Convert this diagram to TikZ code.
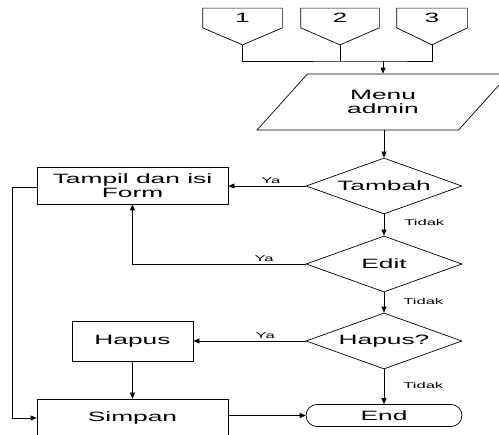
\documentclass[tikz,border=0pt]{standalone}
\usepackage{fontspec}
\setmainfont{Liberation Sans}[FakeStretch=1.95]
\usetikzlibrary{shapes.geometric,shapes.misc,arrows.meta}

\begin{document}
\begin{tikzpicture}[x=1pt,y=-1pt,line width=0.7pt,
    box/.style={draw,rectangle,align=center,inner sep=0pt,
      font=\fontsize{13.5}{14.5}\selectfont},
    decision/.style={draw,diamond,aspect=2.8,inner sep=0pt,
      minimum width=156pt,minimum height=56pt,
      font=\fontsize{13.5}{14.5}\selectfont},
    conn/.style={rectangle,inner sep=0pt,minimum height=19pt,
      font=\fontsize{13.5}{14.5}\selectfont},
    lbl/.style={font=\fontsize{8.5}{10}\selectfont,inner sep=2pt},
    arr/.style={-{Triangle[length=6pt,width=5pt]}}]
  \useasboundingbox (0,0) rectangle (499,435);

  \foreach \x/\w/\n in {242.5/79/1, 340/78/2, 432/70/3}{
    \node[conn,minimum width=\w pt] (c\n) at (\x,18) {\n};
    \draw (c\n.north west) -- (c\n.north east) -- (c\n.south east)
      -- ([yshift=-17pt]c\n.south) coordinate (t\n) -- (c\n.south west) -- cycle;
  }
  \coordinate (m) at (383,61);

  \node[draw,trapezium,trapezium left angle=45,trapezium right angle=135,
    trapezium stretches=true,minimum width=252pt,minimum height=56pt,
    align=center,inner sep=0pt,font=\fontsize{13.5}{14.5}\selectfont]
    (menu) at (383,102) {Menu\\admin};
  \node[decision] (tambah) at (384,186) {Tambah};
  \node[decision] (edit) at (384,264) {Edit};
  \node[decision] (hapusq) at (384,341) {Hapus?};
  \node[box,minimum width=191pt,minimum height=37pt] (tampil) at (132.5,185.5)
    {Tampil dan isi\\Form};
  \node[box,minimum width=121pt,minimum height=40pt] (hapus) at (132.5,341) {Hapus};
  \node[box,minimum width=191pt,minimum height=38pt] (simpan) at (132.5,418) {Simpan};
  \node[draw,rounded rectangle,minimum width=156pt,minimum height=22pt,inner sep=0pt,
    font=\fontsize{13.5}{14.5}\selectfont] (end) at (384,415.5) {End};

  \draw (t1) |- (m) -| (t3);
  \draw (t2) -- (t2 |- m);
  \draw[arr] (m) -- (menu.north -| m);
  \draw[arr] (menu.south -| tambah) -- (tambah.north);
  \draw[arr] (tambah.west) -- node[lbl,above,pos=0.45] {Ya} (tambah.west -| tampil.east);
  \draw[arr] (tambah.south) -- node[lbl,right,xshift=18pt,pos=0.4] {Tidak} (edit.north);
  \draw[arr] (edit.west) -| node[lbl,above,pos=0.12] {Ya} (tampil.south);
  \draw[arr] (edit.south) -- node[lbl,right,xshift=17pt,pos=0.45] {Tidak} (hapusq.north);
  \draw[arr] (hapusq.west) -- node[lbl,above,pos=0.36] {Ya} (hapus.east);
  \draw[arr] (hapusq.south) -- node[lbl,right,xshift=17pt,pos=0.45] {Tidak} (end.north);
  \draw[arr] (hapus.south) -- (simpan.north);
  \draw[arr] ([yshift=-1.5pt]tampil.west) -- ++(-24,0) |- (simpan.west);
  \draw[arr] (simpan.east |- end.west) -- (end.west);
\end{tikzpicture}
\end{document}
